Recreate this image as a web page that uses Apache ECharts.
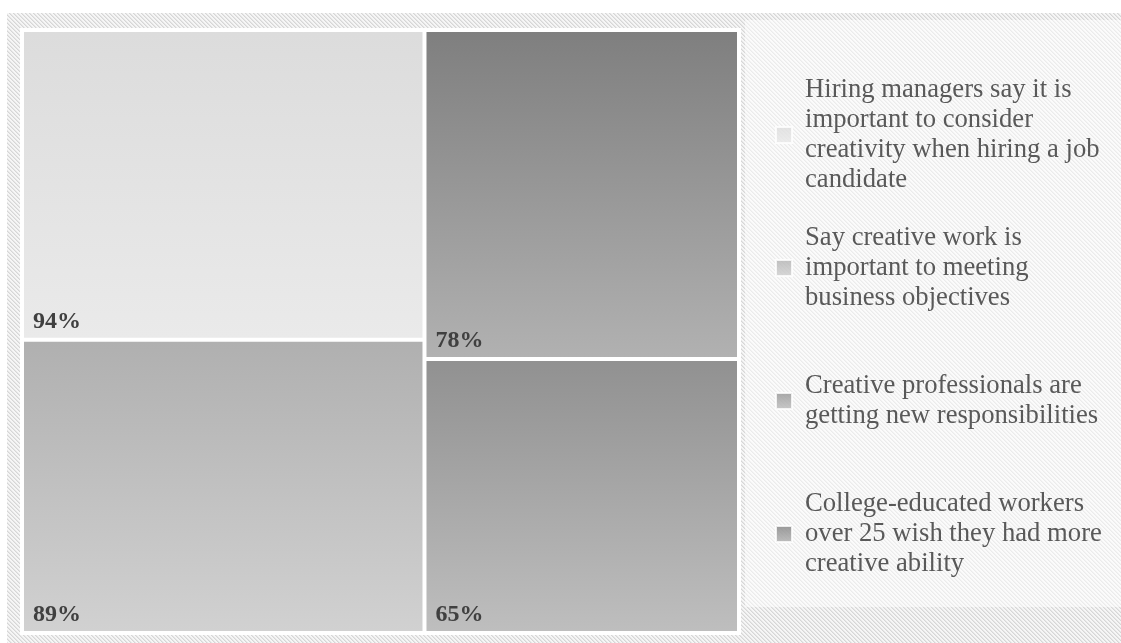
<!DOCTYPE html>
<html><head><meta charset="utf-8">
<script src="https://cdn.jsdelivr.net/npm/echarts/dist/echarts.min.js"></script>
<style>html,body{margin:0;padding:0;background:#fff;}#chart{width:1121px;height:643px;}</style>
</head><body><div id="chart"></div>
<script>
// ---- data ----
const categories = [
  "Hiring managers say it is important to consider creativity when hiring a job candidate",
  "Say creative work is important to meeting business objectives",
  "Creative professionals are getting new responsibilities",
  "College-educated workers over 25 wish they had more creative ability"
];
const values = [94, 89, 65, 78];
// ---- styles ----
const topColors = ['#dcdcdc', '#b0b0b0', '#919191', '#7f7f7f'];
const bottomColors = ['#eaeaea', '#d1d1d1', '#bebebe', '#b1b1b1'];
const legendPad = [0, 15, 30, 15];
const legendFont = '26.67px "Liberation Serif"';

function grad(i) {
  return new echarts.graphic.LinearGradient(0, 0, 0, 1, [
    {offset: 0, color: topColors[i]}, {offset: 1, color: bottomColors[i]}
  ]);
}

// word wrap helper for legend text
const mctx = document.createElement('canvas').getContext('2d');
mctx.font = legendFont;
function wrap(s, w) {
  const words = s.split(' ');
  const lines = [];
  let cur = '';
  words.forEach(wd => {
    const t = cur ? cur + ' ' + wd : wd;
    if (cur && mctx.measureText(t).width > w) { lines.push(cur); cur = wd; }
    else cur = t;
  });
  if (cur) lines.push(cur);
  return lines.join('\n');
}

// hatch pattern
const pc = document.createElement('canvas');
pc.width = 4; pc.height = 4;
const pctx = pc.getContext('2d');
const shades = ['#d6d6d6', '#e6e6e6', '#f6f6f6', '#f6f6f6'];
for (let y = 0; y < 4; y++) for (let x = 0; x < 4; x++) {
  pctx.fillStyle = shades[((x - y) % 4 + 4) % 4];
  pctx.fillRect(x, y, 1, 1);
}

const chart = echarts.init(document.getElementById('chart'));
const option = {
  animation: false,
  graphic: [
    {type: 'rect', z: 0, shape: {x: 7, y: 13, width: 1114, height: 630}, style: {fill: {image: pc, repeat: 'repeat'}}, silent: true},
    {type: 'rect', z: 0, shape: {x: 745, y: 20, width: 376, height: 587}, style: {fill: 'rgba(255,255,255,0.5)'}, silent: true}
  ],
  grid: {show: false, left: 0, top: 0, width: 1, height: 1},
  xAxis: {type: 'value', show: false},
  yAxis: {type: 'value', show: false},
  legend: {
    orient: 'vertical',
    left: 770, top: 70,
    itemWidth: 16, itemHeight: 16, itemGap: 13,
    icon: 'rect',
    selectedMode: false,
    itemStyle: {borderColor: '#fff', borderWidth: 2},
    formatter: name => wrap(name, 300),
    textStyle: {fontFamily: 'Liberation Serif', fontSize: 26.67, color: '#595959', lineHeight: 30},
    data: categories.map((c, i) => ({name: c, textStyle: {padding: [legendPad[i], 0, legendPad[i], 8]}}))
  },
  series: [
    {
      type: 'treemap',
      left: 20, top: 28, width: 721, height: 607,
      roam: false, nodeClick: false,
      breadcrumb: {show: false},
      levels: [
        {itemStyle: {borderColor: '#fff', borderWidth: 4, gapWidth: 4}},
        {itemStyle: {borderWidth: 0, gapWidth: 0}}
      ],
      label: {
        show: true, position: 'insideBottomLeft', distance: 4, offset: [0, 5],
        formatter: p => p.value + '%',
        fontFamily: 'Liberation Serif', fontWeight: 'bold', fontSize: 24, color: '#404040'
      },
      data: categories.map((c, i) => ({name: c, value: values[i], itemStyle: {color: grad(i)}}))
    }
  ].concat(categories.map((c, i) => ({
    type: 'scatter', name: c, data: [], itemStyle: {color: grad(i)}
  })))
};
chart.setOption(option);
</script>
</body></html>
